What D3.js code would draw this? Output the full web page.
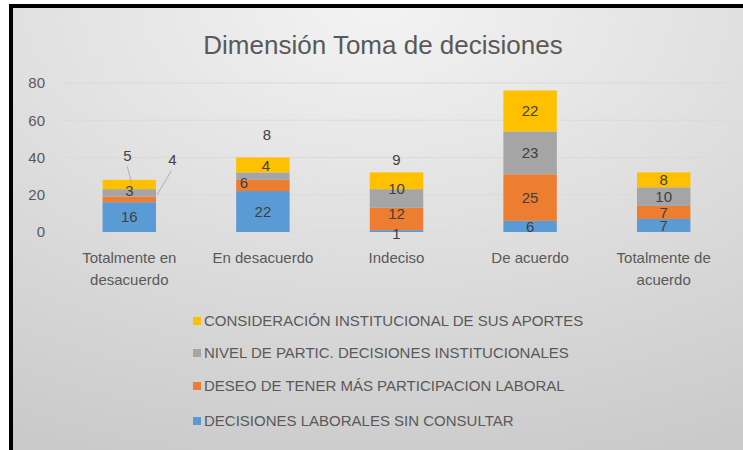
<!DOCTYPE html>
<html><head><meta charset="utf-8">
<script src="https://cdn.jsdelivr.net/npm/d3@7"></script>
<style>
html,body{margin:0;padding:0;background:#fff;}
svg{display:block;}
text{font-family:"Liberation Sans Narrow","Liberation Sans",sans-serif;}
</style></head>
<body>
<script>
const categories = [["Totalmente en","desacuerdo"],["En desacuerdo"],["Indeciso"],["De acuerdo"],["Totalmente de","acuerdo"]];
const seriesNames = ["DECISIONES LABORALES SIN CONSULTAR","DESEO DE TENER MÁS PARTICIPACION LABORAL","NIVEL DE PARTIC. DECISIONES INSTITUCIONALES","CONSIDERACIÓN INSTITUCIONAL DE SUS APORTES"];
const decisionesSinConsultar = [16,22,1,6,7];
const deseoParticipacion = [3,6,12,25,7];
const nivelParticipacion = [4,4,10,23,10];
const consideracionAportes = [5,8,9,22,8];
const yTicks = [0,20,40,60,80];

const seriesValues = [decisionesSinConsultar, deseoParticipacion, nivelParticipacion, consideracionAportes];
const colors = ["#5b9bd5","#ed7d31","#a5a5a5","#ffc000"];

// label displacement (layout only) keyed "category-series": [dx, dy, leader]
const labelShift = {
  "0-1":[0,-9,false], "0-2":[43,-33,true], "0-3":[-2,-29,true],
  "1-1":[-19,-3,false], "1-2":[3,-10,false], "1-3":[4,-30,false],
  "2-0":[0,3,false], "2-1":[0,-5,false], "2-2":[0,-10,false], "2-3":[0,-21,false]
};

const W=743,H=450;
const svg=d3.select("body").append("svg").attr("width",W).attr("height",H);
const defs=svg.append("defs");
const g1=defs.append("radialGradient").attr("id","bg").attr("cx","50%").attr("cy","0%").attr("r","110%").attr("fx","50%").attr("fy","0%");
g1.append("stop").attr("offset","0%").attr("stop-color","#f3f3f3");
g1.append("stop").attr("offset","100%").attr("stop-color","#c9c9c9");

svg.append("rect").attr("x",0).attr("y",0).attr("width",W).attr("height",H).attr("fill","#ffffff");
svg.append("rect").attr("x",9).attr("y",4).attr("width",W-9).attr("height",H-4).attr("fill","#000");
svg.append("rect").attr("x",13).attr("y",8).attr("width",W-13).attr("height",H-8).attr("fill","url(#bg)");

const x=d3.scaleBand().domain(d3.range(categories.length)).range([62.5,730.5]).paddingInner(0.6).paddingOuter(0.3);
const y=d3.scaleLinear().domain([0,80]).range([232,83]);

// gridlines
svg.append("g").selectAll("line").data(yTicks).join("line")
  .attr("x1",62).attr("x2",731).attr("y1",d=>y(d)).attr("y2",d=>y(d))
  .attr("stroke","#dadada").attr("stroke-width",1);

// y axis labels
const yAxis=d3.axisLeft(y).tickValues(yTicks).tickSize(0).tickPadding(0);
const ya=svg.append("g").attr("transform","translate(45,0)").call(yAxis);
ya.select(".domain").remove();
ya.selectAll("text").attr("fill","#595959").style("font-size","15px").style("font-family","'Liberation Sans Narrow',sans-serif");

// stack
const table=categories.map((c,i)=>{const o={i};seriesValues.forEach((s,k)=>o["s"+k]=s[i]);return o;});
const stack=d3.stack().keys(seriesValues.map((s,k)=>"s"+k))(table);

const bars=svg.append("g");
stack.forEach((layer,k)=>{
  bars.selectAll(null).data(layer).join("rect")
    .attr("x",d=>x(d.data.i)).attr("width",x.bandwidth())
    .attr("y",d=>y(d[1])).attr("height",d=>y(d[0])-y(d[1]))
    .attr("fill",colors[k]);
});

// labels
const lab=svg.append("g");
stack.forEach((layer,k)=>{
  layer.forEach(d=>{
    const i=d.data.i;
    const cx=x(i)+x.bandwidth()/2, cy=y((d[0]+d[1])/2);
    const sh=labelShift[i+"-"+k]||[0,0,false];
    const tx=cx+sh[0], ty=cy+sh[1];
    if(sh[2]){
      const ex = sh[0]>10 ? x(i)+x.bandwidth()+1 : cx+3;
      const ey = sh[0]>10 ? cy+2 : cy+1;
      lab.append("line").attr("x1",tx-(sh[0]>10?1:0)).attr("y1",ty+11).attr("x2",ex).attr("y2",ey)
        .attr("stroke","#b0b0b0").attr("stroke-width",1);
    }
    lab.append("text").attr("x",tx).attr("y",ty).attr("dy","0.35em")
      .attr("text-anchor","middle").attr("fill","#404040").style("font-size","15px")
      .text(seriesValues[k][i]);
  });
});

// x labels
const xl=svg.append("g");
categories.forEach((c,i)=>{
  const t=xl.append("text").attr("x",x(i)+x.bandwidth()/2).attr("y",263).attr("text-anchor","middle")
    .attr("fill","#595959").style("font-size","15px");
  c.forEach((line,j)=>t.append("tspan").attr("x",x(i)+x.bandwidth()/2).attr("dy",j?22:0).text(line));
});

// title
svg.append("text").attr("x",383).attr("y",54).attr("text-anchor","middle").attr("fill","#595959")
  .style("font-size","26px").text("Dimensión Toma de decisiones");

// legend (reverse order)
const legY=[321,353,386,421];
const lg=svg.append("g");
[3,2,1,0].forEach((k,r)=>{
  lg.append("rect").attr("x",193).attr("y",legY[r]-4).attr("width",8).attr("height",8).attr("fill",colors[k]);
  lg.append("text").attr("x",204).attr("y",legY[r]).attr("dy","0.35em").attr("fill","#595959")
    .style("font-size","15px").text(seriesNames[k]);
});
</script>
</body></html>
